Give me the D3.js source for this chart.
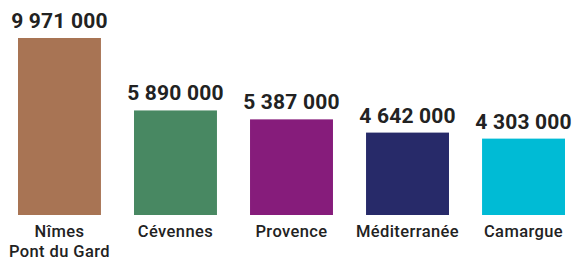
<!DOCTYPE html>
<html><head><meta charset="utf-8">
<script src="https://cdn.jsdelivr.net/npm/d3@7"></script>
<style>body{margin:0;background:#fff}svg{display:block}</style>
</head><body>
<svg id="c" width="574" height="260"></svg>
<script>
const categories = ["Nîmes\nPont du Gard", "Cévennes", "Provence", "Méditerranée", "Camargue"];
const values = [9971000, 5890000, 5387000, 4642000, 4303000];
const colors = ["#A87454", "#488862", "#861C7B", "#272A69", "#00BBD5"];

const svg = d3.select("#c");
const baseY = 215, topY = 38;
const x = d3.scaleBand().domain(categories).range([18, 565]).paddingInner(0.285).paddingOuter(0);
const y = d3.scaleLinear().domain([0, d3.max(values)]).range([baseY, topY]);
const fmt = v => d3.format(",")(v).replace(/,/g, " ");

svg.selectAll("rect.bar").data(categories).join("rect")
  .attr("class", "bar")
  .attr("x", d => x(d)).attr("width", x.bandwidth())
  .attr("y", (d, i) => y(values[i])).attr("height", (d, i) => baseY - y(values[i]))
  .attr("fill", (d, i) => colors[i]);

svg.selectAll("text.val").data(categories).join("text")
  .attr("class", "val")
  .attr("x", d => x(d) + x.bandwidth() / 2)
  .attr("y", (d, i) => y(values[i]) - 10)
  .attr("text-anchor", "middle")
  .style("font-family", "Roboto, sans-serif").style("font-weight", "700").style("font-size", "21px")
  .style("letter-spacing", "0.2px")
  .attr("fill", "#222")
  .text((d, i) => fmt(values[i]));

const lab = svg.selectAll("text.cat").data(categories).join("text")
  .attr("class", "cat")
  .attr("x", d => x(d) + x.bandwidth() / 2)
  .attr("y", 237)
  .attr("text-anchor", "middle")
  .style("font-family", "Roboto, sans-serif").style("font-weight", "500").style("font-size", "16.5px")
  .style("letter-spacing", "0.4px")
  .attr("fill", "#222");
lab.selectAll("tspan").data(d => d.split("\n")).join("tspan")
  .attr("x", function() { return this.parentNode.getAttribute("x"); })
  .attr("dy", (d, i) => i === 0 ? 0 : 20)
  .text(d => d);
</script>
</body></html>
